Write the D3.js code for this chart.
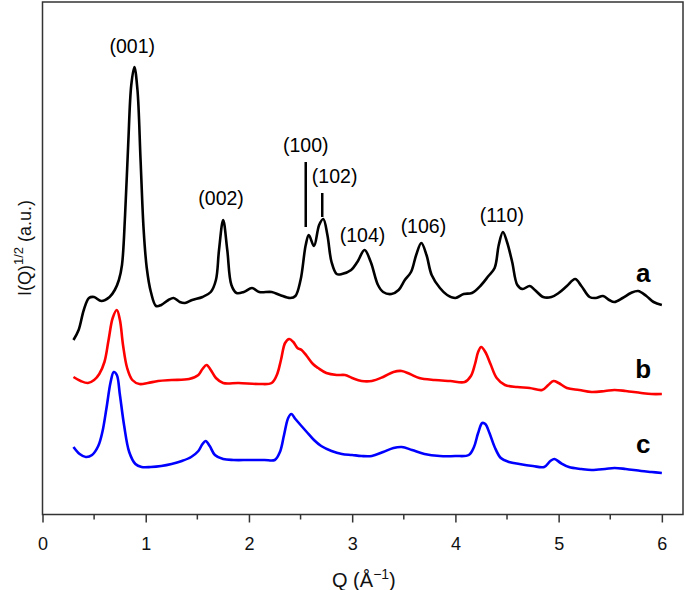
<!DOCTYPE html>
<html><head><meta charset="utf-8">
<script src="https://cdn.jsdelivr.net/npm/d3@7"></script>
<style>body{margin:0;background:#fff}svg{display:block}text{font-family:"Liberation Sans",Arial,sans-serif}</style>
</head><body><svg id="c" width="685" height="590"></svg>
<script>
const q_a = [0.30,0.35,0.40,0.45,0.50,0.57,0.65,0.70,0.74,0.77,0.80,0.83,0.86,0.89,0.92,0.95,0.98,1.01,1.05,1.10,1.15,1.22,1.27,1.33,1.38,1.45,1.55,1.63,1.68,1.71,1.75,1.79,1.83,1.88,1.95,2.03,2.10,2.22,2.30,2.40,2.45,2.50,2.55,2.58,2.63,2.68,2.72,2.76,2.80,2.85,2.90,2.99,3.05,3.12,3.18,3.25,3.30,3.38,3.45,3.51,3.57,3.62,3.67,3.72,3.77,3.85,3.92,4.00,4.08,4.16,4.25,4.32,4.38,4.42,4.46,4.50,4.55,4.60,4.65,4.72,4.77,4.85,4.93,5.00,5.08,5.16,5.22,5.30,5.36,5.43,5.49,5.54,5.62,5.70,5.77,5.85,5.92,6.00];
const i_a = [174,184,204,216,217,213,217,224,234,249,299,369,429,447,424,354,284,246,222,208,209,214,216,212,211,214,217,222,234,264,294,264,229,221,222,226,222,222,219,216,218,234,269,279,268,289,295,279,252,240,240,244,252,264,252,229,222,220,224,234,242,259,271,259,239,226,219,216,220,221,229,238,246,269,282,272,252,229,225,228,224,217,217,221,228,235,228,217,216,218,214,212,216,221,223,218,212,209];
const q_b = [0.30,0.37,0.44,0.50,0.55,0.60,0.64,0.68,0.72,0.75,0.78,0.82,0.87,0.94,1.02,1.12,1.25,1.42,1.51,1.55,1.59,1.63,1.68,1.75,1.90,2.10,2.22,2.27,2.31,2.35,2.39,2.43,2.47,2.51,2.56,2.62,2.67,2.75,2.85,2.93,3.00,3.09,3.19,3.30,3.40,3.48,3.56,3.65,3.80,3.95,4.09,4.15,4.19,4.22,4.25,4.29,4.34,4.40,4.48,4.60,4.72,4.84,4.90,4.95,5.00,5.08,5.20,5.32,5.45,5.54,5.65,5.80,5.90,6.00];
const i_b = [137,133,131,134,140,152,174,196,204,194,169,146,134,130,131,133,134,135,139,145,149,144,136,131,131,130,131,139,154,171,175,172,166,164,158,150,146,141,139,139,136,133,133,137,142,143,140,136,134,133,132,138,150,162,167,162,150,136,129,127,126,124,129,133,131,126,124,122,123,124,123,121,120,120];
const q_c = [0.30,0.36,0.42,0.48,0.54,0.58,0.62,0.66,0.69,0.72,0.75,0.79,0.84,0.90,0.96,1.05,1.15,1.25,1.35,1.44,1.51,1.55,1.58,1.62,1.67,1.75,1.85,2.00,2.15,2.25,2.30,2.34,2.38,2.41,2.45,2.50,2.56,2.63,2.70,2.80,2.90,3.00,3.09,3.19,3.30,3.40,3.48,3.58,3.70,3.85,4.00,4.13,4.18,4.22,4.26,4.29,4.33,4.38,4.44,4.52,4.62,4.75,4.86,4.92,4.96,5.02,5.10,5.22,5.32,5.45,5.54,5.65,5.80,5.90,6.00];
const i_c = [67,60,57,59,68,82,106,132,142,139,119,89,62,50,47,47,48,50,53,57,63,70,73,68,59,55,54,54,54,54,62,79,96,100,95,89,82,74,68,63,60,59,58,58,62,66,67,64,60,58,58,59,67,81,91,90,81,67,56,52,50,48,47,53,55,51,47,45,44,45,46,45,43,42,41];
const xTicks = [0,1,2,3,4,5,6];
const xMinor = [0.5,1.5,2.5,3.5,4.5,5.5];
const seriesNames = ["a","b","c"];
const seriesColors = ["#000000","#ff0000","#0000ff"];
const peakLabels = ["(001)","(002)","(100)","(102)","(104)","(106)","(110)"];
const peakQ = [0.87,1.73,2.55,2.83,3.10,3.69,4.45];
const peakV = [461,309,362,331,272,281,292];

const svg = d3.select("#c");
const x = d3.scaleLinear().domain([0,6.2]).range([42.5,682.5]);
const y = d3.scaleLinear().domain([0,512]).range([514,2]);

// frame
svg.append("rect").attr("x",42.5).attr("y",2).attr("width",640.5).attr("height",512.5)
  .attr("fill","none").attr("stroke","#333").attr("stroke-width",1.5);

const gx = svg.append("g").attr("transform","translate(0,514.5)");
gx.call(d3.axisBottom(x).tickValues(xTicks).tickFormat(d3.format("d")).tickSize(8).tickPadding(15));
gx.select(".domain").remove();
gx.selectAll("line").attr("stroke","#333").attr("stroke-width",1.5);
gx.selectAll("text").attr("font-size",18).attr("fill","#111").style("font-family","'Liberation Sans',Arial,sans-serif");
gx.selectAll(".minor").data(xMinor).enter().append("line").attr("class","minor")
  .attr("x1",d=>x(d)).attr("x2",d=>x(d)).attr("y1",0).attr("y2",5).attr("stroke","#333").attr("stroke-width",1.5);

const xt = svg.append("text").attr("x",332).attr("y",587).attr("text-anchor","start").attr("font-size",20).attr("fill","#111");
xt.append("tspan").text("Q (Å");
xt.append("tspan").attr("dy",-8).attr("font-size",14).text("−1");
xt.append("tspan").attr("dy",8).text(")");

const yt = svg.append("text").attr("transform","translate(31,248) rotate(-90)").attr("text-anchor","middle").attr("font-size",18).attr("fill","#111");
yt.append("tspan").text("I(Q)");
yt.append("tspan").attr("dy",-8).attr("font-size",13).text("1/2");
yt.append("tspan").attr("dy",8).text(" (a.u.)");

const line = d3.line().x(d=>x(d[0])).y(d=>y(d[1])).curve(d3.curveCatmullRom.alpha(0.5));
const series = [[q_a,i_a],[q_b,i_b],[q_c,i_c]];
series.forEach((s,k)=>{
  const pts = s[0].map((q,i)=>[q,s[1][i]]);
  svg.append("path").datum(pts).attr("d",line).attr("fill","none")
    .attr("stroke",seriesColors[k]).attr("stroke-width",2.6).attr("stroke-linejoin","round");
});

// series letters
const letterV = [232,136,61];
seriesNames.forEach((n,k)=>{
  svg.append("text").attr("x",x(5.82)).attr("y",y(letterV[k])).attr("text-anchor","middle")
    .attr("font-size",26).attr("font-weight","bold").attr("fill","#000").text(n);
});

// peak labels
peakLabels.forEach((t,k)=>{
  svg.append("text").attr("x",x(peakQ[k])).attr("y",y(peakV[k])).attr("text-anchor","middle")
    .attr("font-size",19.5).attr("fill","#000").text(t);
});
// marker lines for (100) and (102)
svg.append("line").attr("x1",x(2.55)).attr("x2",x(2.55)).attr("y1",y(352)).attr("y2",y(287)).attr("stroke","#000").attr("stroke-width",2.5);
svg.append("line").attr("x1",x(2.71)).attr("x2",x(2.71)).attr("y1",y(321)).attr("y2",y(297)).attr("stroke","#000").attr("stroke-width",2.5);
</script></body></html>
